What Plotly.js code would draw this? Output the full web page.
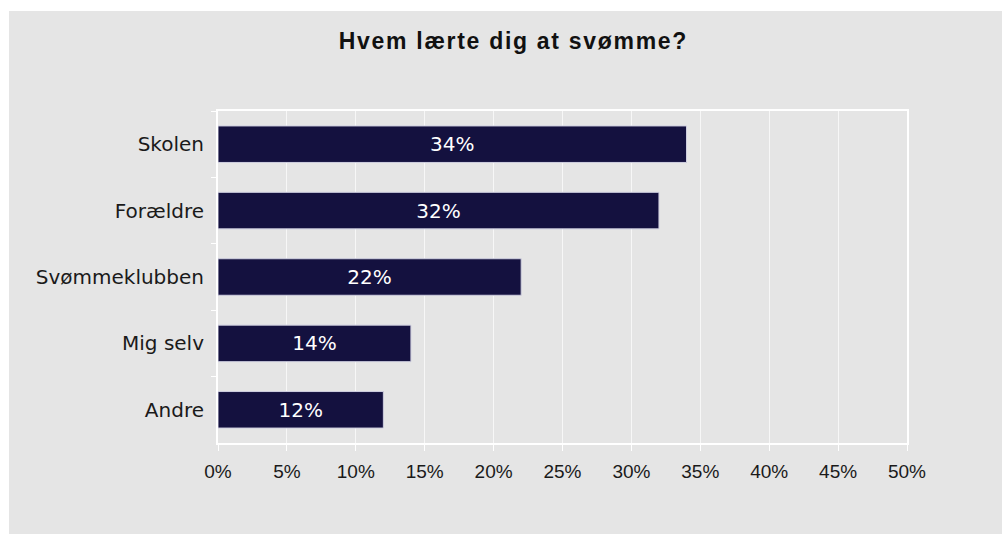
<!DOCTYPE html>
<html>
<head>
<meta charset="utf-8">
<script src="https://cdn.plot.ly/plotly-3.0.1.min.js"></script>
<style>
  html, body { margin: 0; padding: 0; background: #ffffff; width: 1002px; height: 534px; overflow: hidden; }
  #chart { position: absolute; left: 9px; top: 11px; width: 993px; height: 523px; }
  .gtitle { letter-spacing: 1.7px; }
</style>
</head>
<body>
<div id="chart"></div>
<script>
// Data (top-to-bottom order as shown)
const categories = ["Skolen", "Forældre", "Svømmeklubben", "Mig selv", "Andre"];
const values = [34, 32, 22, 14, 12];
const xTickValues = [0, 5, 10, 15, 20, 25, 30, 35, 40, 45, 50];
const xTickLabels = ["0%", "5%", "10%", "15%", "20%", "25%", "30%", "35%", "40%", "45%", "50%"];

const trace = {
  type: "bar",
  orientation: "h",
  y: categories,
  x: values,
  text: values.map(v => v + "%"),
  textposition: "inside",
  insidetextanchor: "middle",
  textfont: { family: "DejaVu Sans", size: 20, color: "#ffffff" },
  marker: { color: "#14113f", line: { color: "#cfcfe0", width: 1 } },
  hoverinfo: "none"
};

const layout = {
  width: 993,
  height: 523,
  margin: { l: 209, r: 95, t: 100, b: 91 },
  paper_bgcolor: "#e5e5e5",
  plot_bgcolor: "#e5e5e5",
  showlegend: false,
  bargap: 0.45,
  title: {
    text: "<b>Hvem lærte dig at svømme?</b>",
    font: { family: "Liberation Sans", size: 23, color: "#111111" },
    x: 0.508, xref: "container", xanchor: "center",
    y: 0.942, yref: "container", yanchor: "middle"
  },
  xaxis: {
    range: [0, 50],
    tickmode: "array",
    tickvals: xTickValues,
    ticktext: xTickLabels,
    showgrid: true, gridcolor: "#f7f7f7", gridwidth: 1,
    zeroline: false,
    showline: true, linecolor: "#ffffff", linewidth: 2, mirror: true,
    ticks: "outside", ticklen: 6, tickcolor: "#ffffff", tickwidth: 1,
    ticklabelstandoff: 4,
    tickfont: { family: "Liberation Sans", size: 19, color: "#1a1a1a" },
    fixedrange: true
  },
  yaxis: {
    type: "category",
    autorange: "reversed",
    tickson: "boundaries",
    showgrid: false,
    zeroline: false,
    showline: true, linecolor: "#ffffff", linewidth: 2, mirror: true,
    ticks: "outside", ticklen: 5, tickcolor: "#ffffff", tickwidth: 1,
    ticklabelstandoff: 8,
    tickfont: { family: "DejaVu Sans", size: 20, color: "#1a1a1a" },
    fixedrange: true
  }
};

Plotly.newPlot("chart", [trace], layout, { displayModeBar: false, staticPlot: true });
</script>
</body>
</html>
